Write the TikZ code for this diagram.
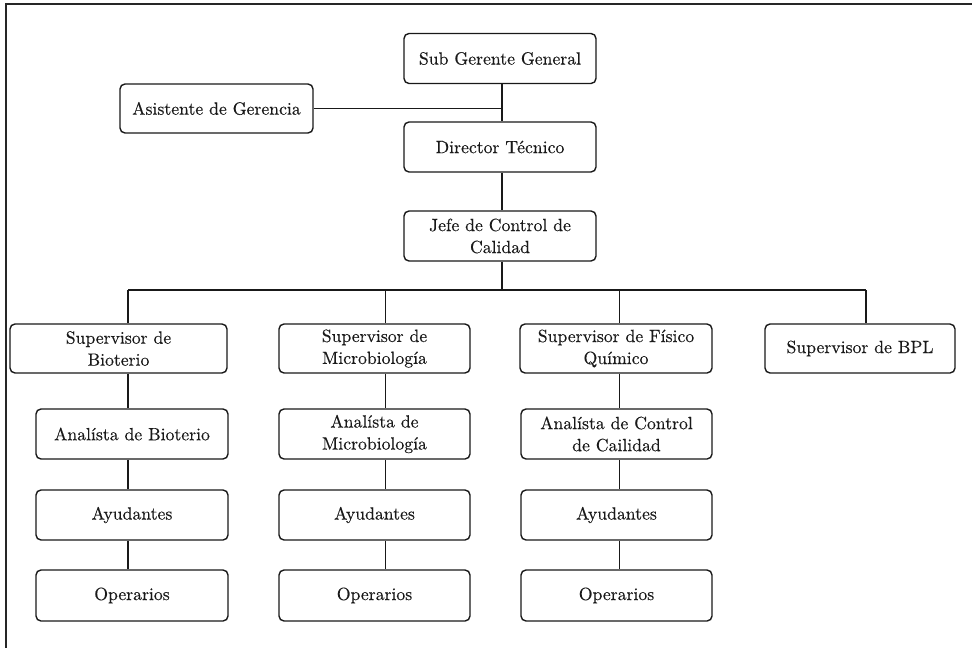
\documentclass[tikz,border=0pt]{standalone}
\usepackage{fontspec}
\newfontfamily\boxfont{lmroman10-regular}[Extension=.otf, FakeBold=0.3]
\begin{document}
\begin{tikzpicture}[x=1pt,y=-1pt,
  box/.style={draw=black!90, line width=1.4pt, rounded corners=5pt, align=center,
    inner sep=0pt, minimum height=50pt, font=\boxfont\fontsize{17.7}{22}\selectfont, text=black!90},
  wide/.style={box, minimum width=192pt},
  link/.style={draw=black!90, line width=1.3pt},
  frame/.style={draw=black!85, line width=2pt}]
  \useasboundingbox (0,0) rectangle (972,648);
  % page frame (top and left edges)
  \draw[frame] (972,4) -- (6,4) -- (6,648);

  % management chain
  \node[wide] (sub)  at (500,58.5) {Sub Gerente General};
  \node[box, minimum width=193pt, minimum height=49pt] (asis) at (216.5,108.5) {Asistente de Gerencia};
  \node[wide] (dir)  at (500,147) {Director Técnico};
  \node[wide] (jefe) at (500,236) {Jefe de Control de\\Calidad};

  % supervisors
  \node[box, minimum width=217pt, minimum height=49pt] (s1) at (118.5,348.5) {Supervisor de\\Bioterio};
  \node[box, minimum width=191pt, minimum height=49pt] (s2) at (374.5,348.5) {Supervisor de\\Microbiología};
  \node[box, minimum width=192pt, minimum height=49pt] (s3) at (616,348.5) {Supervisor de Físico\\Químico};
  \node[box, minimum width=190pt, minimum height=49pt] (s4) at (860,348.5) {Supervisor de BPL};

  % column 1
  \node[wide] (a1) at (132,434) {Analísta de Bioterio};
  \node[wide] (y1) at (132,515) {Ayudantes};
  \node[wide, minimum height=51pt] (o1) at (132,595.5) {Operarios};
  % column 2
  \node[wide, minimum width=191pt] (a2) at (374.5,434) {Analísta de\\Microbiología};
  \node[wide, minimum width=191pt] (y2) at (374.5,515) {Ayudantes};
  \node[wide, minimum width=191pt, minimum height=51pt] (o2) at (374.5,595.5) {Operarios};
  % column 3
  \node[wide, minimum width=191pt] (a3) at (616.5,434) {Analísta de Control\\de Cailidad};
  \node[wide, minimum width=191pt] (y3) at (616.5,515) {Ayudantes};
  \node[wide, minimum width=191pt, minimum height=51pt] (o3) at (616.5,595.5) {Operarios};

  % trunk lines and bus
  \coordinate (t0) at (502,0);
  \coordinate (busL) at (128,290);
  \coordinate (busR) at (866,290);
  \coordinate (c1) at (128,0);
  \coordinate (c2) at (385.5,0);
  \coordinate (c3) at (619.5,0);
  \coordinate (c4) at (866,0);

  \draw[link] (sub.south -| t0) -- (dir.north -| t0);
  \draw[link] (asis.east) -- (asis.east -| t0);
  \draw[link] (dir.south -| t0) -- (jefe.north -| t0);
  \draw[link] (jefe.south -| t0) -- (busL -| t0);
  \draw[link] (busL) -- (busR);
  \draw[link] (busL) -- (s1.north -| c1);
  \draw[link] (busL -| c2) -- (s2.north -| c2);
  \draw[link] (busL -| c3) -- (s3.north -| c3);
  \draw[link] (busR) -- (s4.north -| c4);

  \draw[link] (s1.south -| c1) -- (a1.north -| c1);
  \draw[link] (a1.south -| c1) -- (y1.north -| c1);
  \draw[link] (y1.south -| c1) -- (o1.north -| c1);
  \draw[link] (s2.south -| c2) -- (a2.north -| c2);
  \draw[link] (a2.south -| c2) -- (y2.north -| c2);
  \draw[link] (y2.south -| c2) -- (o2.north -| c2);
  \draw[link] (s3.south -| c3) -- (a3.north -| c3);
  \draw[link] (a3.south -| c3) -- (y3.north -| c3);
  \draw[link] (y3.south -| c3) -- (o3.north -| c3);
\end{tikzpicture}
\end{document}
